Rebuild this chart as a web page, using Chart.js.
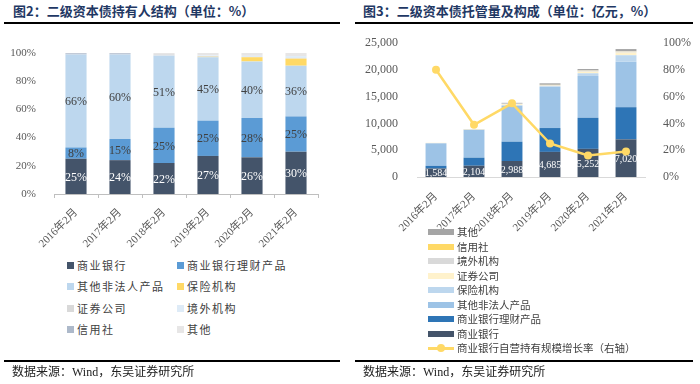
<!DOCTYPE html>
<html>
<head>
<meta charset="utf-8">
<script src="https://cdn.jsdelivr.net/npm/chart.js@4.4.1/dist/chart.umd.min.js"></script>
<style>
    body { margin: 0; width: 700px; height: 384px; background: #fff; position: relative; overflow: hidden;
           font-family: 'Liberation Serif', 'Noto Sans CJK SC', serif; }
    .title { position: absolute; top: 1px; line-height: 20px; font-size: 13px; font-weight: bold;
             font-family: 'Noto Sans CJK SC', sans-serif; color: #1F3864; white-space: nowrap; }
    .rule { position: absolute; height: 2px; background: #000; }
    .src { position: absolute; top: 364px; line-height: 16px; font-size: 12px; color: #222; white-space: nowrap; }
    canvas { position: absolute; top: 0; }
    .lg { position: absolute; line-height: 14px; font-family: 'Noto Sans CJK SC', sans-serif; color: #404040; white-space: nowrap; }
    .lg i { position: absolute; display: block; }
</style>
</head>
<body>
<div class="title" style="left:13px">图2：二级资本债持有人结构（单位：%）</div>
<div class="title" style="left:363px">图3：二级资本债托管量及构成（单位：亿元，%）</div>
<div class="rule" style="left:4px;width:336px;top:22px"></div>
<div class="rule" style="left:355px;width:338px;top:22px"></div>
<canvas id="holderChart" width="350" height="255" style="left:0"></canvas>
<canvas id="custodyChart" width="350" height="240" style="left:350px"></canvas>
<div id="holderLegend"></div>
<div id="custodyLegend"></div>
<div class="rule" style="left:4px;width:336px;top:360px"></div>
<div class="rule" style="left:355px;width:338px;top:360px"></div>
<div class="src" style="left:12px">数据来源：Wind，东吴证券研究所</div>
<div class="src" style="left:363px">数据来源：Wind，东吴证券研究所</div>

<script>
// categories
const months = ['2016年2月', '2017年2月', '2018年2月', '2019年2月', '2020年2月', '2021年2月'];

// 图2 holder structure (%)
const holderNames = ['商业银行', '商业银行理财产品', '其他非法人产品', '保险机构', '证券公司', '境外机构', '信用社', '其他'];
const holderColors = ['#44546A', '#5B9BD5', '#BDD7EE', '#FFD966', '#D9D9D9', '#DEEBF7', '#ADB9CA', '#E7E6E6'];
const bankShare = [25, 24, 22, 27, 26, 30];
const wealthShare = [8, 15, 25, 25, 28, 25];
const otherProductShare = [66, 60, 51, 45, 40, 36];
const insuranceShare = [0, 0, 0, 0.3, 3, 5];
const securitiesShare = [0, 0, 0.3, 0.5, 0.3, 0.3];
const foreignShare = [0, 0, 0.2, 0.5, 0.7, 1.5];
const creditCoopShare = [0.8, 0.8, 0.2, 0, 0, 0];
const othersShare = [0.2, 0.2, 1.3, 1.7, 2, 2.2];
const percentTicks = [0, 20, 40, 60, 80, 100];

// 图3 custody volume (亿元) and growth (%)
const custodyNames = ['商业银行', '商业银行理财产品', '其他非法人产品', '保险机构', '证券公司', '境外机构', '信用社', '其他'];
const custodyColors = ['#44546A', '#2E75B6', '#9DC3E6', '#BDD7EE', '#FFF2CC', '#D9D9D9', '#FFD966', '#A5A5A5'];
const bankAmt = [1584, 2104, 2988, 4685, 5252, 7020];
const wealthAmt = [500, 1500, 3600, 4450, 5800, 6000];
const otherProductAmt = [4200, 5200, 6700, 7700, 7800, 8500];
const insuranceAmt = [0, 0, 100, 100, 500, 1200];
const securitiesAmt = [100, 100, 200, 100, 300, 500];
const foreignAmt = [0, 0, 100, 150, 200, 200];
const creditCoopAmt = [0, 0, 0, 20, 30, 50];
const othersAmt = [0, 50, 150, 275, 270, 400];
const bankGrowth = [80, 39, 55, 25, 16, 19];
const growthName = '商业银行自营持有规模增长率（右轴）';
const amountTicks = [0, 5000, 10000, 15000, 20000, 25000];

const tickFont = { family: "'Liberation Serif', 'Noto Sans CJK SC', serif", size: 11 };
Chart.defaults.color = '#595959';

// draws value text in the middle of each bar segment, right after its dataset
const segmentLabels = {
    id: 'segmentLabels',
    afterDatasetDraw(chart, args) {
        const ds = chart.data.datasets[args.index];
        if (!ds.labelColor) return;
        const ctx = chart.ctx;
        ctx.save();
        ctx.fillStyle = ds.labelColor;
        ctx.font = ds.labelFont;
        ctx.textAlign = 'center';
        ctx.textBaseline = 'middle';
        args.meta.data.forEach((bar, i) => {
            const p = bar.getProps(['x', 'y', 'base'], true);
            ctx.fillText(ds.labelFmt(ds.data[i]), p.x, (p.y + p.base) / 2 + 1);
        });
        ctx.restore();
    }
};

function renderHolderChart() {
    const series = [bankShare, wealthShare, otherProductShare, insuranceShare,
        securitiesShare, foreignShare, creditCoopShare, othersShare];
    const datasets = series.map((data, i) => ({
        label: holderNames[i],
        data: data,
        backgroundColor: holderColors[i],
        borderWidth: 0,
        categoryPercentage: 1,
        barPercentage: 0.48,
        labelColor: i === 0 ? '#fff' : (i < 3 ? '#404040' : null),
        labelFont: "12px 'Liberation Serif'",
        labelFmt: v => v + '%'
    }));
    new Chart(document.getElementById('holderChart'), {
        type: 'bar',
        data: { labels: months, datasets: datasets },
        plugins: [segmentLabels],
        options: {
            responsive: false,
            animation: false,
            devicePixelRatio: 1,
            layout: { padding: { left: 0, top: 53, right: 32, bottom: 0 } },
            plugins: { legend: { display: false }, tooltip: { enabled: false } },
            scales: {
                x: {
                    stacked: true,
                    grid: { display: true, drawOnChartArea: false, drawTicks: true, tickLength: 4, color: '#bfbfbf' },
                    border: { display: true, color: '#bfbfbf' },
                    ticks: { minRotation: 45, maxRotation: 45, padding: 8, font: tickFont },
                    afterFit(s) { s.height = 61; }
                },
                y: {
                    stacked: true,
                    min: 0,
                    max: 100,
                    grid: { display: false },
                    border: { display: false },
                    afterBuildTicks(s) { s.ticks = percentTicks.map(v => ({ value: v })); },
                    ticks: { padding: 10, font: { family: "'Liberation Serif'", size: 11 }, callback: v => v + '%' },
                    afterFit(s) { s.width = 54; }
                }
            }
        }
    });
}

function renderCustodyChart() {
    const series = [bankAmt, wealthAmt, otherProductAmt, insuranceAmt,
        securitiesAmt, foreignAmt, creditCoopAmt, othersAmt];
    const datasets = series.map((data, i) => ({
        type: 'bar',
        label: custodyNames[i],
        data: data,
        backgroundColor: custodyColors[i],
        borderWidth: 0,
        categoryPercentage: 1,
        barPercentage: 0.55,
        yAxisID: 'y',
        order: 1,
        labelColor: i === 0 ? '#fff' : null,
        labelFont: "10px 'Liberation Serif'",
        labelFmt: v => v.toLocaleString('en-US')
    }));
    datasets.push({
        type: 'line',
        label: growthName,
        data: bankGrowth,
        yAxisID: 'y1',
        order: 0,
        borderColor: '#FFD966',
        backgroundColor: '#FFD966',
        borderWidth: 2.5,
        pointRadius: 4,
        pointBorderWidth: 0,
        tension: 0
    });
    new Chart(document.getElementById('custodyChart'), {
        data: { labels: months, datasets: datasets },
        plugins: [segmentLabels],
        options: {
            responsive: false,
            animation: false,
            devicePixelRatio: 1,
            layout: { padding: { left: 0, top: 43, right: 0, bottom: 0 } },
            plugins: { legend: { display: false }, tooltip: { enabled: false } },
            scales: {
                x: {
                    stacked: true,
                    grid: { display: false },
                    border: { display: true, color: '#d9d9d9' },
                    ticks: { minRotation: 45, maxRotation: 45, padding: 5, font: tickFont },
                    afterFit(s) { s.height = 63; }
                },
                y: {
                    stacked: true,
                    min: 0,
                    max: 25000,
                    grid: { display: false },
                    border: { display: false },
                    afterBuildTicks(s) { s.ticks = amountTicks.map(v => ({ value: v })); },
                    ticks: { padding: 11, font: { family: "'Liberation Serif'", size: 12 }, callback: v => v.toLocaleString('en-US') },
                    afterFit(s) { s.width = 67; }
                },
                y1: {
                    position: 'right',
                    min: 0,
                    max: 100,
                    grid: { display: false },
                    border: { display: false },
                    afterBuildTicks(s) { s.ticks = percentTicks.map(v => ({ value: v })); },
                    ticks: { padding: 10, font: { family: "'Liberation Serif'", size: 12 }, callback: v => v + '%' },
                    afterFit(s) { s.width = 55; }
                }
            }
        }
    });
}

function buildLegends() {
    // 图2: two columns, four rows
    const left = document.getElementById('holderLegend');
    const rowsY = [265, 286, 308, 329];
    holderNames.forEach((name, i) => {
        const x = i % 2 === 0 ? 67 : 177;
        const y = rowsY[Math.floor(i / 2)];
        const el = document.createElement('div');
        el.className = 'lg';
        el.style.cssText = `left:${x + 10}px;top:${y - 7}px;font-size:11px;letter-spacing:1.5px`;
        el.innerHTML = `<i style="left:-10px;top:3.5px;width:7px;height:7px;background:${holderColors[i]}"></i>${name}`;
        left.appendChild(el);
    });

    // 图3: single column, bars listed top segment first, then the line
    const right = document.getElementById('custodyLegend');
    const startY = 232, stepY = 14.5;
    const order = [7, 6, 5, 4, 3, 2, 1, 0];
    order.forEach((k, r) => {
        const el = document.createElement('div');
        el.className = 'lg';
        el.style.cssText = `left:457px;top:${startY + r * stepY - 7}px;font-size:10.5px`;
        el.innerHTML = `<i style="left:-29px;top:4px;width:26px;height:6px;background:${custodyColors[k]}"></i>${custodyNames[k]}`;
        right.appendChild(el);
    });
    const el = document.createElement('div');
    el.className = 'lg';
    el.style.cssText = `left:457px;top:${startY + 8 * stepY - 7}px;font-size:10.5px`;
    el.innerHTML = `<i style="left:-29px;top:6px;width:26px;height:2.5px;background:#FFD966"></i>` +
        `<i style="left:-20px;top:3px;width:8px;height:8px;border-radius:50%;background:#FFD966"></i>${growthName}`;
    right.appendChild(el);
}

renderHolderChart();
renderCustodyChart();
buildLegends();
</script>
</body>
</html>
